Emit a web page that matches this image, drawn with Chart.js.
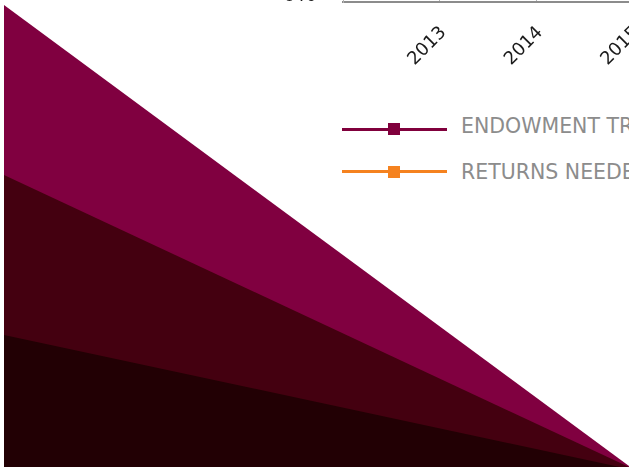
<!DOCTYPE html>
<html>
<head>
<meta charset="utf-8">
<script src="https://cdn.jsdelivr.net/npm/chart.js@4.4.1/dist/chart.umd.min.js"></script>
<style>
  html, body { margin: 0; padding: 0; width: 629px; height: 467px; overflow: hidden; background: #ffffff; }
  body { position: relative; }
  #bg { position: absolute; left: 0; top: 0; }
  #wrap { position: absolute; left: 0; top: 0; }
  .legLine { position: absolute; left: 342px; width: 105px; height: 3px; }
  .legMark { position: absolute; left: 388px; width: 12px; height: 12px; }
  .legText { position: absolute; left: 461px; white-space: nowrap; font-family: "DejaVu Sans", sans-serif; font-size: 20.5px; line-height: 24px; color: #8c8c8c; font-weight: 400; }
</style>
</head>
<body>
<svg id="bg" width="629" height="467">
  <polygon points="4,5 629,466 629,470 4,470" fill="#800040"/>
  <polygon points="4,175 629,467 629,470 4,470" fill="#440010"/>
  <polygon points="4,335 629,469 629,470 4,470" fill="#220004"/>
</svg>
<div id="wrap"><canvas id="c" width="900" height="400"></canvas></div>
<div id="legend"></div>
<script>
// ---- data ----
const years = ['2012', '2013', '2014', '2015', '2016', '2017', '2018', '2019'];
const endowmentReturns = [6.2, 8.1, 11.5, 10.2, 7.4, 8.9, 9.6, 7.8];
const returnsNeeded = [7.5, 7.4, 7.3, 7.2, 7.1, 7.0, 7.0, 6.9];
const seriesNames = ['ENDOWMENT TRAILING RETURNS', 'RETURNS NEEDED'];
const seriesColors = ['#80003c', '#f5821f'];
const yTickValues = [0, 5, 10, 15];

const canvas = document.getElementById('c');
const wrap = document.getElementById('wrap');
const H = 400;
const spacing = 96.5;

const chart = new Chart(canvas.getContext('2d'), {
  type: 'line',
  data: {
    labels: years,
    datasets: [
      { label: seriesNames[0], data: endowmentReturns, borderColor: seriesColors[0], backgroundColor: seriesColors[0], borderWidth: 3, pointStyle: 'rect', pointRadius: 6, tension: 0 },
      { label: seriesNames[1], data: returnsNeeded, borderColor: seriesColors[1], backgroundColor: seriesColors[1], borderWidth: 3, pointStyle: 'rect', pointRadius: 6, tension: 0 }
    ]
  },
  options: {
    responsive: false,
    animation: false,
    layout: { padding: 0 },
    plugins: { legend: { display: false }, tooltip: { enabled: false } },
    scales: {
      x: {
        grid: { color: '#b3b3b3', lineWidth: 1, drawTicks: false },
        border: { color: '#8c8c8c', width: 2 },
        ticks: {
          color: '#1a1a1a', font: { family: 'DejaVu Sans', size: 18 },
          minRotation: 45, maxRotation: 45, padding: 20, labelOffset: 4, autoSkip: false,
          callback: (v, i) => (i === 0 ? '' : years[i])
        }
      },
      y: {
        min: yTickValues[0], max: yTickValues[yTickValues.length - 1],
        afterBuildTicks: (s) => { s.ticks = yTickValues.map(v => ({ value: v })); },
        afterFit: (s) => { s.width = 90; },
        grid: { color: '#d9d9d9', drawTicks: false },
        border: { color: '#b3b3b3', width: 1 },
        ticks: {
          color: '#1a1a1a', font: { family: 'DejaVu Sans', size: 21 },
          padding: 27, labelOffset: -7,
          callback: (v) => v + '%'
        }
      }
    }
  }
});

let ca = chart.chartArea;
const want = (years.length - 1) * spacing;
const newW = Math.round(canvas.width + (want - (ca.right - ca.left)));
chart.resize(newW, H);
ca = chart.chartArea;
wrap.style.left = (343 - ca.left) + 'px';
wrap.style.top = (2 - ca.bottom) + 'px';

// ---- HTML legend ----
const legend = document.getElementById('legend');
seriesNames.forEach((name, i) => {
  const lineY = 129 + i * 42.5;
  const textC = 125 + i * 46.5;
  const line = document.createElement('div');
  line.className = 'legLine';
  line.style.top = (lineY - 1.5) + 'px';
  line.style.background = seriesColors[i];
  const mark = document.createElement('div');
  mark.className = 'legMark';
  mark.style.top = (lineY - 6) + 'px';
  mark.style.background = seriesColors[i];
  const txt = document.createElement('div');
  txt.className = 'legText';
  txt.style.top = (textC - 11.4) + 'px';
  txt.textContent = name;
  legend.appendChild(line);
  legend.appendChild(mark);
  legend.appendChild(txt);
});
</script>
</body>
</html>
